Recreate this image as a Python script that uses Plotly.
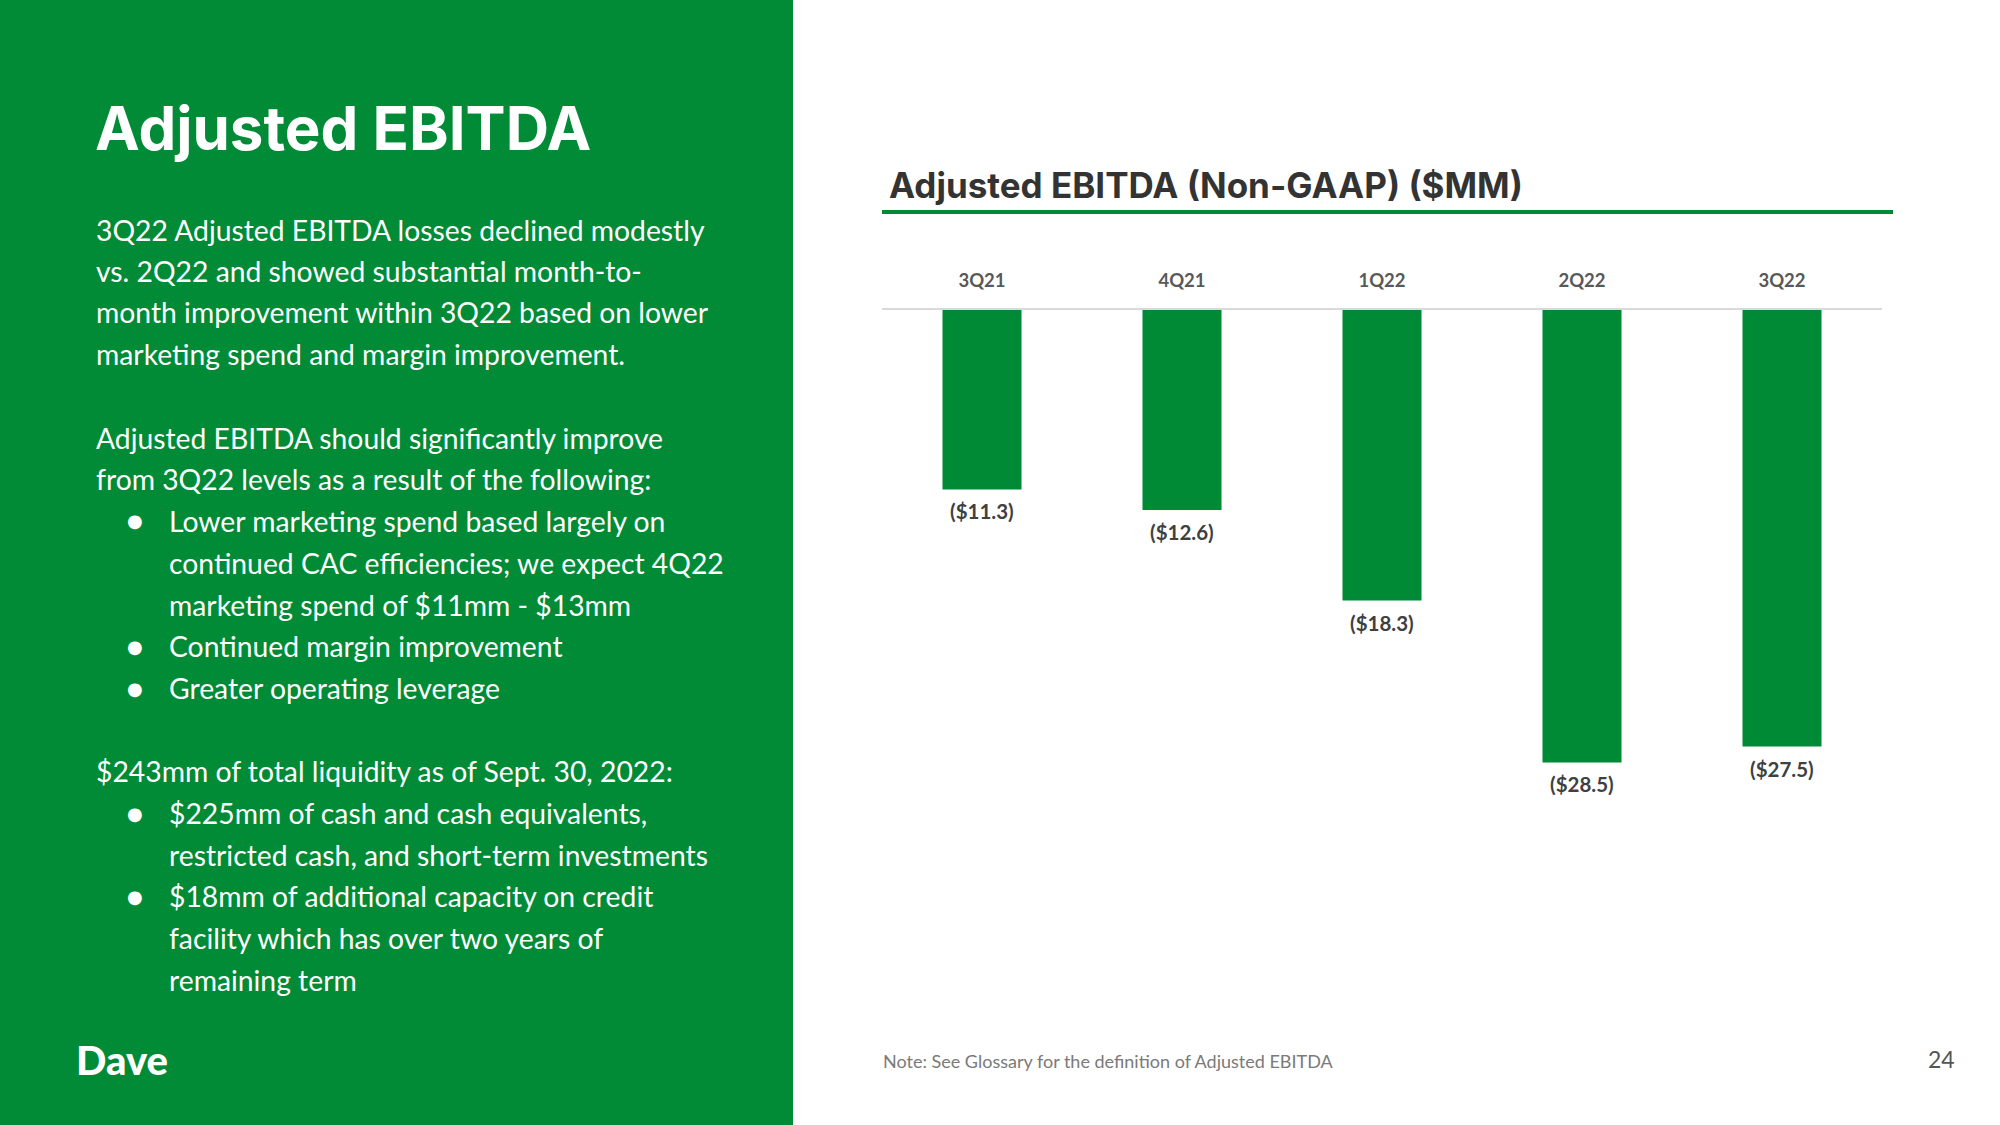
"""Adjusted EBITDA slide: green text panel on the left, bar chart on the right."""

import plotly.graph_objects as go

W, H = 2000, 1125

COLOR_GREEN = "#008A35"
COLOR_PANEL = "#018B36"
COLOR_TITLE = "#333333"
COLOR_AXIS_TEXT = "#595959"
COLOR_VALUE_TEXT = "#404040"
COLOR_NOTE = "#7a7a7a"

BODY_FONT = "Lato, sans-serif"
HEAD_FONT = "Inter, sans-serif"

# chart data ($MM)
quarters = ["3Q21", "4Q21", "1Q22", "2Q22", "3Q22"]
ebitda = [-11.3, -12.6, -18.3, -28.5, -27.5]

slide_title = "Adjusted EBITDA"
chart_title = "Adjusted EBITDA (Non-GAAP) ($MM)"
note_text = "Note: See Glossary for the definition of Adjusted EBITDA"
page_number = "24"

# left panel text: (text, kind, y in px); kind False = paragraph, True = bullet, None = bullet continuation
panel_lines = [
    ("3Q22 Adjusted EBITDA losses declined modestly", False, 230),
    ("vs. 2Q22 and showed substantial month-to-", False, 271),
    ("month improvement within 3Q22 based on lower", False, 312),
    ("marketing spend and margin improvement.", False, 354),
    ("Adjusted EBITDA should significantly improve", False, 438),
    ("from 3Q22 levels as a result of the following:", False, 479),
    ("Lower marketing spend based largely on", True, 521),
    ("continued CAC efficiencies; we expect 4Q22", None, 563),
    ("marketing spend of $11mm - $13mm", None, 605),
    ("Continued margin improvement", True, 646),
    ("Greater operating leverage", True, 688),
    ("$243mm of total liquidity as of Sept. 30, 2022:", False, 771),
    ("$225mm of cash and cash equivalents,", True, 813),
    ("restricted cash, and short-term investments", None, 855),
    ("$18mm of additional capacity on credit", True, 896),
    ("facility which has over two years of", None, 938),
    ("remaining term", None, 980),
]


def px_x(x):
    return x / W


def px_y(y):
    return 1 - y / H


fig = go.Figure(
    go.Bar(
        x=quarters,
        y=ebitda,
        marker={"color": COLOR_GREEN, "line": {"width": 0}},
        width=0.395,
        hoverinfo="skip",
    )
)

annotations = []
for q, v in zip(quarters, ebitda):
    annotations.append(
        dict(
            x=q, y=v, xref="x", yref="y",
            text=f"(${abs(v):.1f})",
            showarrow=False, yanchor="middle", yshift=-22,
            font={"family": BODY_FONT, "size": 20.5, "color": COLOR_VALUE_TEXT, "weight": "bold"},
        )
    )

annotations.append(
    dict(
        x=px_x(93), y=px_y(128), xref="paper", yref="paper",
        text=f"<b>{slide_title}</b>", showarrow=False, xanchor="left", yanchor="middle",
        font={"family": HEAD_FONT, "size": 60, "color": "#ffffff"},
    )
)

for text, bullet, y in panel_lines:
    x = 94 if bullet is False else 167
    annotations.append(
        dict(
            x=px_x(x), y=px_y(y), xref="paper", yref="paper",
            text=text, showarrow=False, xanchor="left", yanchor="middle",
            font={"family": BODY_FONT, "size": 28.3, "color": "#ffffff"},
        )
    )
    if bullet:
        annotations.append(
            dict(
                x=px_x(135), y=px_y(y), xref="paper", yref="paper",
                text="●", showarrow=False, xanchor="center", yanchor="middle",
                font={"family": "DejaVu Sans", "size": 18, "color": "#ffffff"},
            )
        )

annotations.append(
    dict(
        x=px_x(74), y=px_y(1060), xref="paper", yref="paper",
        text="Dave", showarrow=False, xanchor="left", yanchor="middle",
        font={"family": "Lato, sans-serif", "size": 40, "color": "#ffffff", "weight": 900},
    )
)

annotations.append(
    dict(
        x=px_x(887), y=px_y(185), xref="paper", yref="paper",
        text=f"<b>{chart_title}</b>", showarrow=False, xanchor="left", yanchor="middle",
        font={"family": HEAD_FONT, "size": 35, "color": COLOR_TITLE},
    )
)

annotations.append(
    dict(
        x=px_x(881), y=px_y(1061), xref="paper", yref="paper",
        text=note_text, showarrow=False, xanchor="left", yanchor="middle",
        font={"family": BODY_FONT, "size": 18, "color": COLOR_NOTE},
    )
)

annotations.append(
    dict(
        x=px_x(1957), y=px_y(1059), xref="paper", yref="paper",
        text=page_number, showarrow=False, xanchor="right", yanchor="middle",
        font={"family": BODY_FONT, "size": 23, "color": "#555555"},
    )
)

shapes = [
    dict(type="rect", xref="paper", yref="paper", x0=0, x1=px_x(793), y0=0, y1=1,
         fillcolor=COLOR_PANEL, line={"width": 0}, layer="below"),
    dict(type="line", xref="paper", yref="paper", x0=px_x(882), x1=px_x(1893),
         y0=px_y(212), y1=px_y(212), line={"color": COLOR_GREEN, "width": 4}),
]

fig.update_layout(
    width=W,
    height=H,
    paper_bgcolor="#ffffff",
    plot_bgcolor="#ffffff",
    margin={"l": 0, "r": 0, "t": 0, "b": 0},
    showlegend=False,
    annotations=annotations,
    shapes=shapes,
    font={"family": BODY_FONT},
)
fig.update_xaxes(
    domain=[px_x(882), px_x(1882)],
    side="top",
    showgrid=False,
    zeroline=False,
    showline=True,
    linecolor="#d9d9d9",
    linewidth=1.5,
    ticks="",
    ticklabelstandoff=14,
    tickfont={"family": BODY_FONT, "size": 18.5, "color": COLOR_AXIS_TEXT, "weight": "bold"},
    fixedrange=True,
)
fig.update_yaxes(
    domain=[px_y(945), px_y(310)],
    range=[-40, 0],
    visible=False,
    fixedrange=True,
)

fig.write_html(
    "out.html",
    config={"displayModeBar": False},
    post_script="document.body.style.margin='0';",
)
